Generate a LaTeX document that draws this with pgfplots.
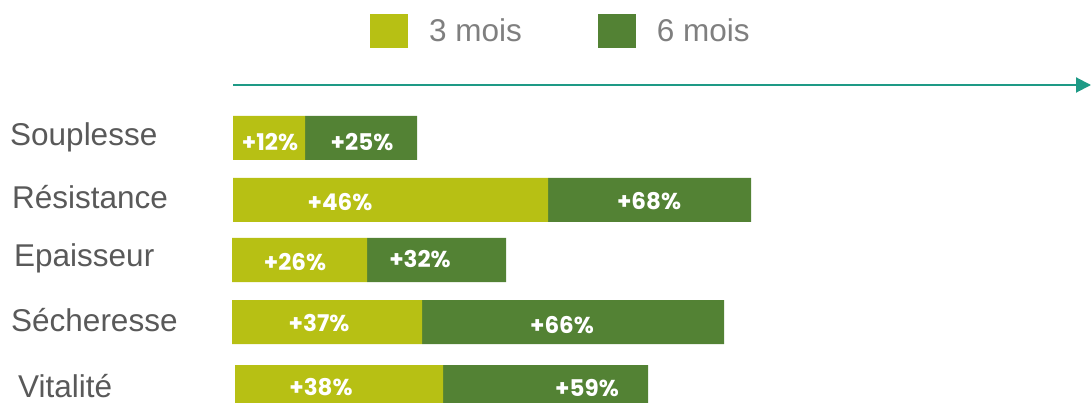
\documentclass[border=0pt]{standalone}
\usepackage{pgfplots}
\pgfplotsset{compat=1.18}
\usepackage{pgfplotstable}
\usepackage{fontspec}
\setmainfont{Liberation Sans}
\newfontfamily\pop{Poppins}
\usetikzlibrary{arrows.meta}
\definecolor{cA}{HTML}{B7C014}
\definecolor{cB}{HTML}{538234}
\definecolor{arrowc}{HTML}{1E9A86}
\definecolor{catgray}{HTML}{595959}
\definecolor{leggray}{HTML}{7F7F7F}

% bar geometry: y centre (px from top), start, length of 3-month part, length of 6-month part
\pgfplotstableread{
y   x0  l3  l6
138 233 72  112
200 233 315 203
260 232 135 139
322 232 190 302
387 235 208 205
}\bars

% value labels
\pgfplotstableread{
x   y     v
270 142   12
362 142   25
340 202.5 46
649 201   68
295 262   26
420 259   32
319 323   37
562 325.5 66
321 387   38
587 388   59
}\vals

% categories
\pgfplotstableread{
x  y   name
10 137 Souplesse
12 197 Résistance
14 258 Epaisseur
11 320 Sécheresse
18 386 Vitalité
}\cats

\pgfplotsset{base/.style={
  at={(0,0)}, anchor=south west, scale only axis,
  width=1091pt, height=403pt,
  xmin=0, xmax=1091, ymin=0, ymax=403,
  y dir=reverse, axis lines=none, clip=false}}

\begin{document}
\begin{tikzpicture}
\path[use as bounding box, clip] (0,0) rectangle (1091pt,403pt);
\begin{axis}[base,
  xbar stacked, bar width=44pt,
  legend style={at={(axis cs:370,31)}, anchor=west, draw=none, fill=none,
    inner sep=0pt, legend columns=2,
    font=\fontsize{31.5}{31.5}\selectfont, text=leggray,
    nodes={inner sep=0pt, anchor=west},
    /tikz/every odd column/.append style={column sep=21pt},
    /tikz/every even column/.append style={column sep=76pt}},
  legend cell align=left]
\addplot[draw=none, fill=none, forget plot] table[x=x0, y=y] {\bars};
\addplot[fill=cA, draw=none,
  legend image code/.code={\fill[cA] (0pt,-17pt) rectangle (38pt,17pt);}]
  table[x=l3, y=y] {\bars};
\addlegendentry{3 mois}
\addplot[fill=cB, draw=none,
  legend image code/.code={\fill[cB] (0pt,-17pt) rectangle (38pt,17pt);}]
  table[x=l6, y=y] {\bars};
\addlegendentry{6 mois}
\draw[draw=arrowc, line width=2pt, -{Triangle[length=15pt, width=15pt]}]
  (axis cs:233,85) -- (axis cs:1091,85);
\end{axis}
\begin{axis}[base]
\addplot[draw=none, mark=none, nodes near coords={+\pgfplotspointmeta\%},
  point meta=explicit symbolic,
  every node near coord/.append style={anchor=center, inner sep=0pt, text=white,
    font=\pop\bfseries\fontsize{23}{23}\selectfont}]
  table[x=x, y=y, meta=v] {\vals};
\addplot[draw=none, mark=none, nodes near coords,
  point meta=explicit symbolic,
  every node near coord/.append style={anchor=west, inner sep=0pt, text=catgray,
    font=\fontsize{31.5}{31.5}\selectfont}]
  table[x=x, y=y, meta=name] {\cats};
\end{axis}
\end{tikzpicture}
\end{document}
